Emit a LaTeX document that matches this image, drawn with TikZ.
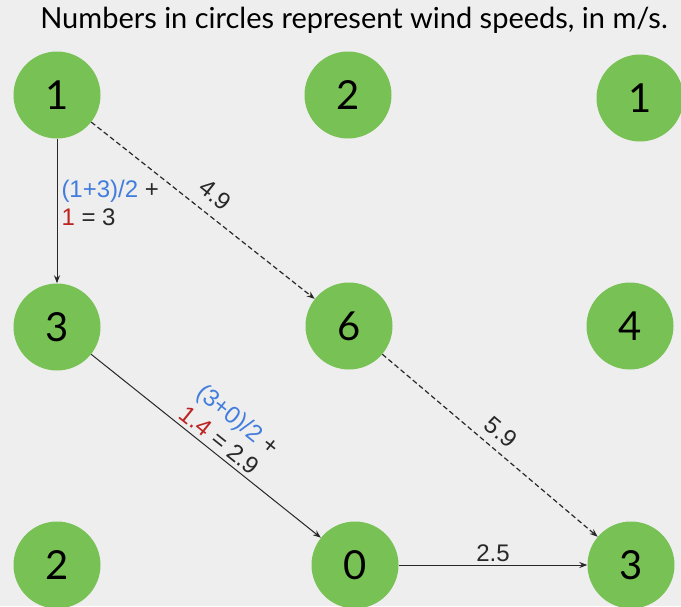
\documentclass[tikz,border=0pt]{standalone}
\usepackage{fontspec}
\setmainfont{Lato}
\newfontfamily\labelfont{Liberation Sans}
\usepackage{tikz}
\usetikzlibrary{arrows.meta}
\definecolor{windgreen}{RGB}{120,193,84}
\definecolor{bggrey}{RGB}{238,238,238}
\definecolor{avgblue}{RGB}{66,125,222}
\definecolor{extrared}{RGB}{190,35,35}
\definecolor{edgegrey}{RGB}{40,40,40}

\begin{document}
\begin{tikzpicture}[x=1pt, y=-1pt,
  cell/.style={circle, fill=windgreen, minimum size=87pt, inner sep=0pt, font=\fontsize{40}{40}\selectfont},
  link/.style={edgegrey, line width=1pt, -{Stealth[length=8pt,width=6pt]}},
  guess/.style={link, line width=1.2pt, dash pattern=on 5pt off 3pt},
  cost/.style={font=\labelfont\fontsize{24}{28}\selectfont, text=edgegrey, inner sep=5pt}]
% Background
\fill[bggrey] (0,0) rectangle (681,606);
\useasboundingbox (0,0) rectangle (681,606);
\node[font=\fontsize{29}{34}\selectfont] (title) at (354,20) {Numbers in circles represent wind speeds, in m/s.};

% Grid of wind speeds
\node[cell] (a1) at (57,95) {1};
\node[cell] (b1) at (348,95) {2};
\node[cell] (c1) at (640,98) {1};
\node[cell] (a2) at (57,327) {3};
\node[cell] (b2) at (349,326) {6};
\node[cell] (c2) at (630,326) {4};
\node[cell] (a3) at (57,565) {2};
\node[cell] (b3) at (355,565) {0};
\node[cell] (c3) at (631,565) {3};

% Paths
\draw[link] (a1) -- node[cost, right, align=left, inner xsep=4pt, yshift=8pt] {\color{avgblue}(1+3)/2 \color{edgegrey}+\\\color{extrared}1 \color{edgegrey}= 3} (a2);
\draw[guess] (a1) -- node[cost, sloped, above, inner sep=11pt] {4.9} (b2);
\draw[link] (a2) -- node[cost, sloped, above, align=left, inner sep=4pt, pos=0.53] {\color{avgblue}(3+0)/2 \color{edgegrey}+\\\color{extrared}1.4 \color{edgegrey}= 2.9} (b3);
\draw[guess] (b2) -- node[cost, sloped, above, inner sep=8pt] {5.9} (c3);
\draw[link] (b3) -- node[cost, above, inner sep=3pt] {2.5} (c3);

\end{tikzpicture}
\end{document}
